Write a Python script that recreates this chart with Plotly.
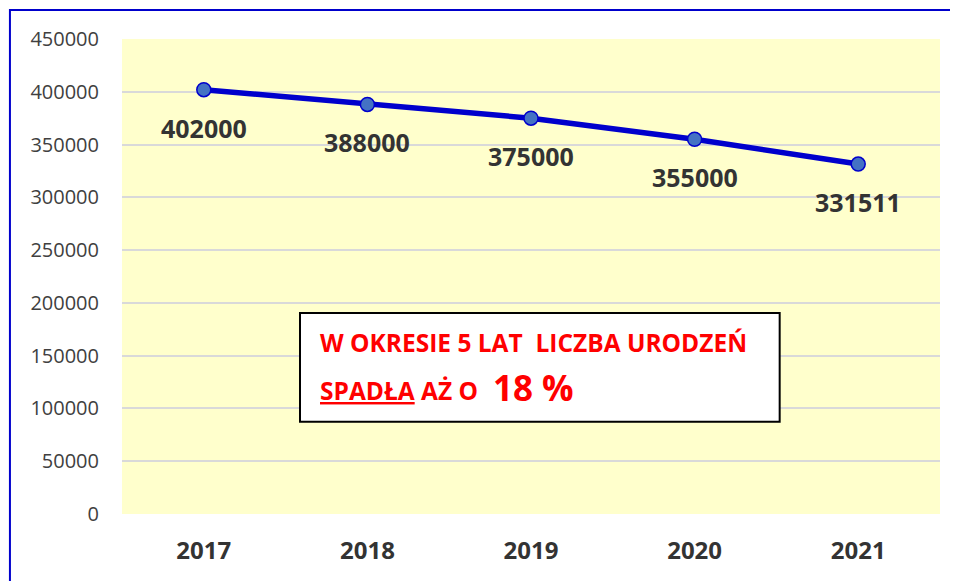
import plotly.graph_objects as go

years = ["2017", "2018", "2019", "2020", "2021"]
births = [402000, 388000, 375000, 355000, 331511]
y_ticks = [0, 50000, 100000, 150000, 200000, 250000, 300000, 350000, 400000, 450000]

fig = go.Figure()

fig.add_trace(go.Scatter(
    x=years,
    y=births,
    mode="lines+markers",
    line=dict(color="#0000CC", width=5.5),
    marker=dict(size=14, color="#4472C4", line=dict(color="#0000CC", width=1.5)),
    showlegend=False,
    hoverinfo="x+y",
))

# data labels below the points
for i, val in enumerate(births):
    fig.add_annotation(
        x=i, y=val, text="<b>%d</b>" % val, showarrow=False,
        yshift=-38, font=dict(family="Open Sans, sans-serif", size=25, color="#333333"),
    )

# text box
box_font = dict(family="Open Sans, sans-serif", size=24.5, color="#FF0000")
fig.add_shape(type="rect", xref="paper", yref="paper",
              x0=0.2176, x1=0.804, y0=0.194, y1=0.423,
              line=dict(color="black", width=2), fillcolor="white", layer="above")
fig.add_annotation(xref="paper", yref="paper", x=0.24, y=0.362,
                   xanchor="left", yanchor="middle",
                   text="<b>W OKRESIE 5 LAT\u00a0 LICZBA URODZEŃ</b>", showarrow=False,
                   font=box_font)
fig.add_annotation(xref="paper", yref="paper", x=0.24, y=0.259,
                   xanchor="left", yanchor="middle",
                   text="<b><span style='text-decoration:underline'>SPADŁA</span> AŻ O</b>",
                   showarrow=False, font=box_font)
fig.add_annotation(xref="paper", yref="paper", x=0.451, y=0.266,
                   xanchor="left", yanchor="middle",
                   text="<b>18 %</b>", showarrow=False,
                   font=dict(family="Open Sans, sans-serif", size=35, color="#FF0000"))

# outer blue border
fig.add_shape(type="rect", xref="paper", yref="paper",
              x0=-0.137, x1=1.2, y0=-0.3, y1=1.061,
              line=dict(color="#0000CC", width=2), fillcolor="rgba(0,0,0,0)", layer="above")

# page body has an 8px margin, so margins are shifted by 8px
fig.update_layout(
    width=958, height=581,
    margin=dict(l=114, r=26, t=31, b=75),
    paper_bgcolor="white",
    plot_bgcolor="#FFFFCC",
    xaxis=dict(
        type="category", range=[-0.5, 4.5], showgrid=False, zeroline=False,
        ticks="", ticklabelstandoff=20,
        tickfont=dict(family="Open Sans, sans-serif", size=24, color="#333333", weight="bold"),
    ),
    yaxis=dict(
        range=[0, 450000], tickvals=y_ticks, tickformat="d",
        showgrid=True, gridcolor="#D9D9D9", gridwidth=2, zeroline=False,
        ticks="", ticklabelstandoff=22,
        tickfont=dict(family="Open Sans, sans-serif", size=20, color="#404040"),
    ),
)

fig.write_html("out.html")
